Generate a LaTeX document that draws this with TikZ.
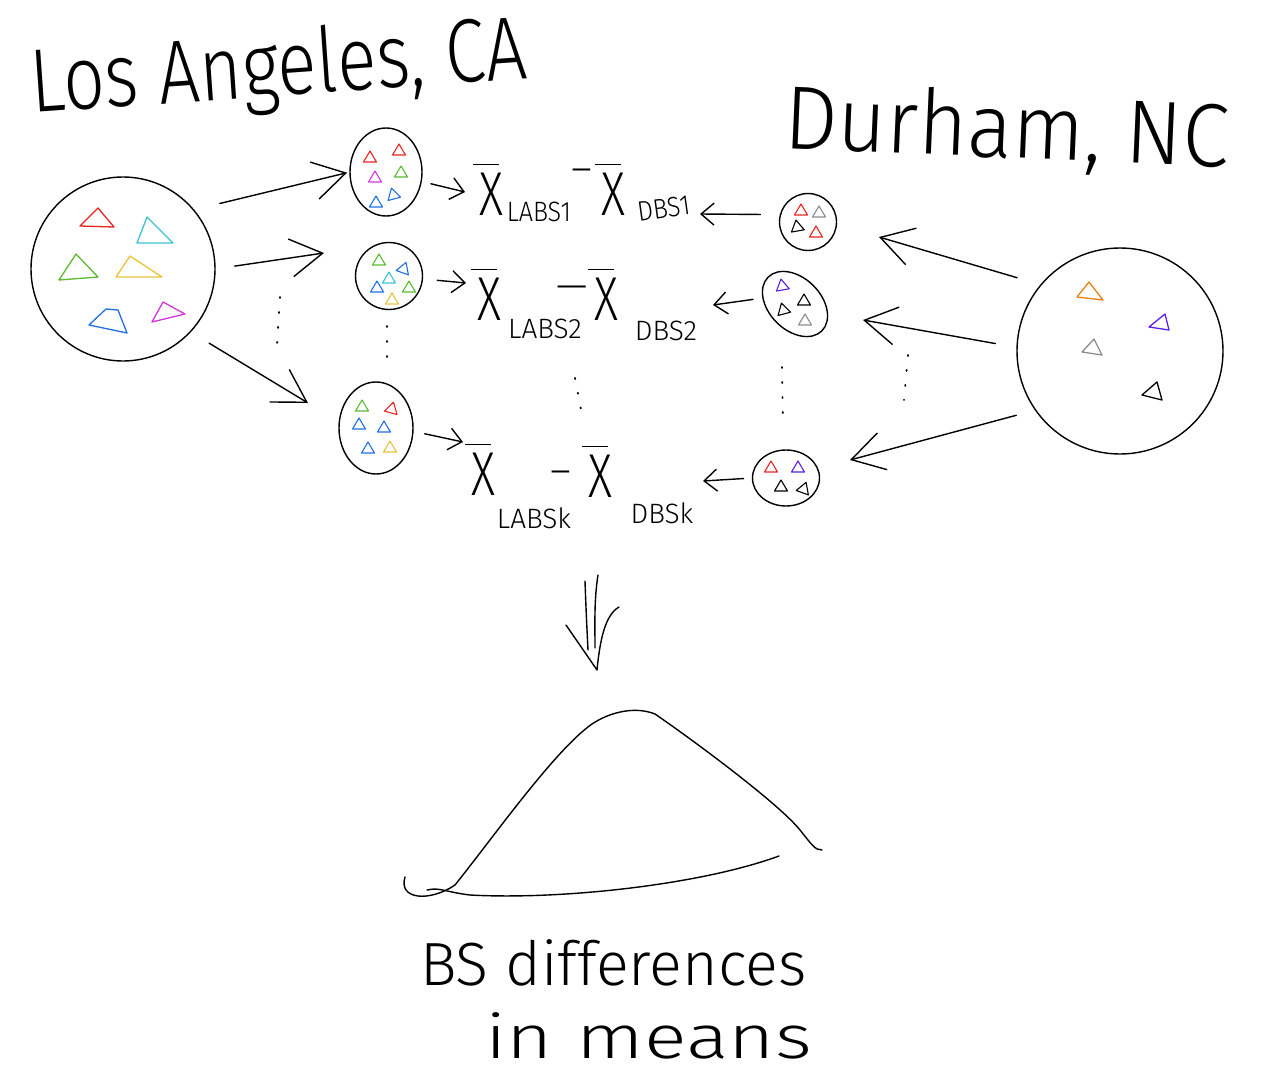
\documentclass[tikz,border=0pt]{standalone}
\usepackage{fontspec}
\newfontfamily\hand{Fira Sans Light}
\usetikzlibrary{arrows.meta,shapes.geometric}
\definecolor{cRed}{HTML}{E8231E}
\definecolor{cCyan}{HTML}{3EC1D3}
\definecolor{cGreen}{HTML}{5CB82E}
\definecolor{cYellow}{HTML}{E8C23A}
\definecolor{cBlue}{HTML}{1F6FE5}
\definecolor{cMag}{HTML}{D236DC}
\definecolor{cOrange}{HTML}{E8800F}
\definecolor{cPurple}{HTML}{5B1FE6}
\definecolor{cGray}{HTML}{8C8C8C}
\newcommand\xbr{\rlap{\kern-0.12em\raisebox{0.8em}{\rule{0.55em}{0.03em}}}X}
\begin{document}
\begin{tikzpicture}[x=1pt,y=-1pt,
  ink/.style={line width=1.4pt,line cap=round,line join=round,black},
  pop/.style={draw,ink,inner sep=0pt,outer sep=0pt},
  bigarr/.style={ink,-{Straight Barb[length=32pt,width=38pt]}},
  smarr/.style={ink,-{Straight Barb[length=13pt,width=22pt]}},
  dotcol/.style={ink,line width=1.8pt,dash pattern=on 1pt off 14pt},
  tribig/.style={line width=1.3pt,line join=round},
  ttl/.style={font=\hand\fontsize{90}{90}\selectfont,inner sep=0pt},
  xbar/.style={font=\hand\fontsize{62}{62}\selectfont,inner sep=0pt,anchor=base,xscale=0.75},
  subs/.style={font=\hand\fontsize{28}{28}\selectfont,inner sep=0pt,anchor=base},
  minus/.style={font=\hand\fontsize{40}{40}\selectfont,inner sep=0pt},
  tri/.pic={\draw[line width=1.1pt,line join=round,#1] (-6.5,5) -- (0,-6) -- (6.5,5) -- cycle;},
]
\useasboundingbox (0,0) rectangle (1262,1084);

% titles
\node[ttl,anchor=base west,rotate=4,xscale=0.81] (tLA) at (32,113) {Los Angeles, CA};
\node[ttl,anchor=base west,rotate=-2.5,xscale=0.94] (tDC) at (783,148) {Durham, NC};

% populations
\node[pop,circle,minimum size=184pt] (LA) at (123,269) {};
\node[pop,circle,minimum size=206pt] (DC) at (1120,351) {};
\node[pop,ellipse,minimum width=72pt,minimum height=88pt] (E1) at (386,172) {};
\node[pop,circle,minimum size=67pt] (E2) at (389,276) {};
\node[pop,ellipse,minimum width=74pt,minimum height=92pt] (E3) at (376,428) {};
\node[pop,circle,minimum size=57pt] (R1) at (808,222) {};
\node[pop,ellipse,minimum width=76pt,minimum height=52pt,rotate=-45] (R2) at (795,304) {};
\node[pop,ellipse,minimum width=67pt,minimum height=56pt] (R3) at (786,478) {};

% LA triangles
\draw[tribig,cRed] (80,226) -- (98,208) -- (114,227) -- cycle;
\draw[tribig,cCyan] (137,243) -- (147,217) -- (173,243) -- cycle;
\draw[tribig,cGreen] (59,280) -- (76,254) -- (98,277) -- cycle;
\draw[tribig,cYellow] (116,277) -- (130,256) -- (162,277) -- cycle;
\draw[tribig,cBlue] (89,325) -- (106,309) -- (118,310) -- (127,333) -- cycle;
\draw[tribig,cMag] (152,322) -- (163,302) -- (185,314) -- cycle;

% DC triangles
\draw[tribig,cOrange] (1077,297) -- (1089,282) -- (1103,300) -- cycle;
\draw[tribig,cPurple] (1149,327) -- (1165,314) -- (1169,330) -- cycle;
\draw[tribig,cGray] (1082,352) -- (1094,339) -- (1102,355) -- cycle;
\draw[tribig,black] (1142,395) -- (1157,382) -- (1162,400) -- cycle;

% sample triangles
\pic at (370,157) {tri=cRed};
\pic at (399,150) {tri=cRed};
\pic at (375,177) {tri=cMag};
\pic at (401,172) {tri=cGreen};
\pic at (376,202) {tri=cBlue};
\pic[rotate=15] at (393,194) {tri=cBlue};

\pic at (379,260) {tri=cGreen};
\pic[rotate=-20] at (404,268) {tri=cBlue};
\pic at (389,278) {tri=cCyan};
\pic at (377,287) {tri=cBlue};
\pic at (409,287) {tri=cGreen};
\pic at (392,299) {tri=cYellow};

\pic at (362,406) {tri=cGreen};
\pic[rotate=-15] at (392,408) {tri=cRed};
\pic at (359,424) {tri=cBlue};
\pic at (384,427) {tri=cBlue};
\pic at (368,448) {tri=cBlue};
\pic at (390,447) {tri=cYellow};

\pic at (801,210) {tri=cRed};
\pic at (819,212) {tri=cGray};
\pic[rotate=10] at (797,226) {tri=black};
\pic at (816,232) {tri=cRed};

\pic[rotate=10] at (782,285) {tri=cPurple};
\pic at (804,300) {tri=black};
\pic[rotate=15] at (783,309) {tri=black};
\pic at (805,320) {tri=cGray};

\pic at (771,467) {tri=cRed};
\pic at (798,467) {tri=cPurple};
\pic at (781,486) {tri=black};
\pic[rotate=-20] at (804,488) {tri=black};

% difference expressions
\node[xbar] (xa1) at (491,215) {\xbr};
\node[subs,xscale=0.9] (la1) at (539,221) {LABS1};
\node[minus] (m1) at (582,176) {–};
\node[xbar] (xb1) at (613,215) {\xbr};
\node[subs,rotate=8,xscale=0.88] (db1) at (665,218) {DBS1};

\node[xbar] (xa2) at (489,320) {\xbr};
\node[subs] (la2) at (545,338) {LABS2};
\node[minus] (m2) at (572,293) {—};
\node[xbar] (xb2) at (606,320) {\xbr};
\node[subs] (db2) at (666,340) {DBS2};

\node[xbar] (xa3) at (483,495) {\xbr};
\node[subs] (la3) at (534,528) {LABSk};
\node[minus] (m3) at (561,478) {–};
\node[xbar] (xb3) at (600,497) {\xbr};
\node[subs] (db3) at (662,523) {DBSk};

% arrow tips (free ends)
\coordinate (tA2) at (324,253);
\coordinate (tA3) at (308,403);
\coordinate (tB1) at (879,237);
\coordinate (tB2) at (863,320);
\coordinate (tB3) at (850,460);
\coordinate (s1) at (465,192);
\coordinate (s2) at (466,283);
\coordinate (s3) at (463,442);
\coordinate (r1t) at (700,214);
\coordinate (r2t) at (713,305);
\coordinate (r3t) at (703,481);

% resampling arrows
\draw[bigarr,shorten <=27pt,shorten >=3pt] (LA.40) -- (E1.west);
\draw[bigarr,shorten <=20pt] (LA.0) -- (tA2);
\draw[bigarr,shorten <=22pt] (LA.-43) -- (tA3);
\draw[bigarr,shorten <=25pt] (DC.140) -- (tB1);
\draw[bigarr,shorten <=22pt] (DC.178) -- (tB2);
\draw[bigarr,shorten <=20pt] (DC.-145) -- (tB3);

% short arrows
\draw[smarr,shorten <=10pt] (E1.-15) -- (s1);
\draw[smarr,shorten <=15pt] (E2.-5) -- (s2);
\draw[smarr,shorten <=12pt] (E3.-5) -- (s3);
\draw[smarr,shorten <=20pt] (R1.165) -- (r1t);
\draw[smarr,shorten <=10pt] (R2.south west) -- (r2t);
\draw[smarr,shorten <=9pt] (R3.west) -- (r3t);

% dots
\draw[dotcol] (280,297) -- (277,345);
\draw[dotcol] (387,326) -- (387,362);
\draw[dotcol] (575,378) -- (582,415);
\draw[dotcol] (782,367) -- (783,421);
\draw[dotcol] (908,355) -- (904,400);

% big down arrow
\draw[ink] (585,581) .. controls (586,610) and (587,630) .. (588,650);
\draw[ink] (598,575) .. controls (594,600) and (595,625) .. (595,648);
\draw[ink] (566,625) -- (597,670) .. controls (600,640) and (605,615) .. (619,607);

% distribution
\draw[ink] (405,877) .. controls (398,900) and (430,902) .. (455,885)
  .. controls (495,835) and (555,750) .. (592,724)
  .. controls (610,712) and (635,706) .. (655,714)
  .. controls (700,745) and (780,805) .. (800,830)
  .. controls (812,845) and (815,850) .. (822,850);
\draw[ink] (427,890) .. controls (440,887) and (445,892) .. (470,895)
  .. controls (560,900) and (700,885) .. (779,856);

% caption
\node[font=\hand\fontsize{61}{61}\selectfont,inner sep=0pt,anchor=base west] (cap1) at (420,985) {BS differences};
\node[font=\hand\fontsize{61}{61}\selectfont,inner sep=0pt,anchor=base west,xscale=1.3] (cap2) at (485,1058) {in\hspace{0.3em}means};
\end{tikzpicture}
\end{document}
